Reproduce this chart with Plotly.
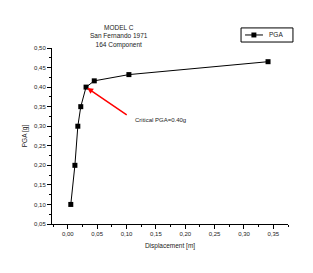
import plotly.graph_objects as go

displacement = [0.005, 0.012, 0.017, 0.022, 0.031, 0.045, 0.104, 0.341]
pga = [0.10, 0.20, 0.30, 0.35, 0.40, 0.416, 0.432, 0.465]
xticks = [0.00, 0.05, 0.10, 0.15, 0.20, 0.25, 0.30, 0.35]
yticks = [0.05, 0.10, 0.15, 0.20, 0.25, 0.30, 0.35, 0.40, 0.45, 0.50]
xtick_text = ["0,00", "0,05", "0,10", "0,15", "0,20", "0,25", "0,30", "0,35"]
ytick_text = ["0,05", "0,10", "0,15", "0,20", "0,25", "0,30", "0,35", "0,40", "0,45", "0,50"]

FONT = "Liberation Sans, Arial, sans-serif"
TXT = "#222"

fig = go.Figure()
fig.add_trace(go.Scatter(
    x=displacement, y=pga, mode="lines+markers", name="PGA",
    line=dict(color="black", width=1),
    marker=dict(symbol="square", size=5, color="black"),
    showlegend=False,
))

axis_common = dict(
    showgrid=False, zeroline=False, showline=True, linecolor="black", linewidth=1,
    ticks="outside", ticklen=4, tickwidth=1, tickcolor="black",
    tickfont=dict(family=FONT, size=6, color=TXT),
)
fig.update_xaxes(
    range=[-0.027, 0.375], tickvals=xticks, ticktext=xtick_text,
    minor=dict(ticks="outside", ticklen=2, tickcolor="black", dtick=0.025, tick0=0),
    title=dict(text="Displacement [m]", font=dict(family=FONT, size=6.5, color=TXT), standoff=7),
    **axis_common,
)
fig.update_yaxes(
    range=[0.05, 0.50], tickvals=yticks, ticktext=ytick_text,
    minor=dict(ticks="outside", ticklen=2, tickcolor="black", dtick=0.025, tick0=0.05),
    title=dict(text="PGA [g]", font=dict(family=FONT, size=6.5, color=TXT), standoff=5),
    **axis_common,
)

# red arrow pointing at the critical point
fig.add_annotation(
    x=0.033, y=0.398, xref="x", yref="y", ax=41, ay=28,
    text="", showarrow=True, arrowhead=2, arrowsize=0.8, arrowwidth=1.5, arrowcolor="red",
)
fig.add_annotation(
    x=0.111, y=0.316, xref="x", yref="y", xanchor="left", yanchor="middle",
    text="Critical PGA=0.40g", showarrow=False,
    font=dict(family=FONT, size=6, color=TXT),
)
fig.add_annotation(
    x=0.087, y=0.985, xref="x", yref="paper", xanchor="center", yanchor="bottom",
    text="MODEL C<br>San Fernando 1971<br>164 Component", showarrow=False,
    font=dict(family=FONT, size=6.5, color=TXT),
)

# legend box drawn manually (plotly legend entries have a large minimum height)
fig.add_shape(type="rect", xref="paper", yref="paper",
              x0=0.801, x1=1.021, y0=1.034, y1=1.114,
              line=dict(color="black", width=1), fillcolor="white")
fig.add_shape(type="line", xref="paper", yref="paper",
              x0=0.818, x1=0.894, y0=1.074, y1=1.074,
              line=dict(color="black", width=1))
fig.add_shape(type="rect", xref="paper", yref="paper",
              x0=0.845, x1=0.866, y0=1.060, y1=1.088,
              line=dict(color="black", width=0), fillcolor="black")
fig.add_annotation(
    x=0.912, y=1.074, xref="paper", yref="paper", xanchor="left", yanchor="middle",
    text="PGA", showarrow=False, font=dict(family=FONT, size=6.5, color=TXT),
)

fig.update_layout(
    width=313, height=273,
    margin=dict(l=52, r=25, t=48, b=49),
    paper_bgcolor="white", plot_bgcolor="white",
    showlegend=False,
)

fig.write_html("out.html")
